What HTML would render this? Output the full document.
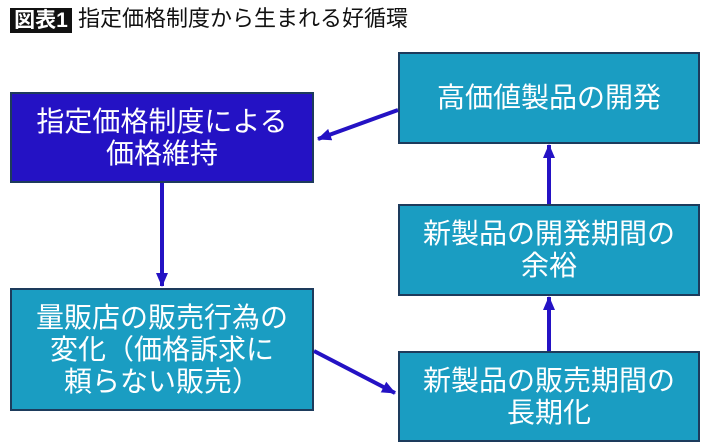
<!DOCTYPE html>
<html><head><meta charset="utf-8"><style>
body{margin:0;width:710px;height:447px;background:#fff;position:relative;overflow:hidden;font-family:"Liberation Sans","Noto Sans CJK JP",sans-serif}
.t{position:absolute;left:10px;top:8px;height:25px;width:62px;background:#111;color:#fff;font-size:21px;line-height:25px;text-align:center;font-weight:bold}
.tt{position:absolute;left:78px;top:6px;font-size:22px;line-height:26px;color:#111}
.b{position:absolute;box-sizing:border-box;border:2px solid #1d3b5c;background:#1a9dc2;color:#fff;font-size:28px;line-height:32px;display:flex;align-items:center;justify-content:center;text-align:center}
</style></head><body>
<div class="t">図表1</div>
<div class="tt">指定価格制度から生まれる好循環</div>
<div class="b" style="left:10px;top:92px;width:304px;height:91px;background:#2412c4">指定価格制度による<br>価格維持</div>
<div class="b" style="left:398px;top:52px;width:302px;height:92px">高価値製品の開発</div>
<div class="b" style="left:398px;top:204px;width:302px;height:92px">新製品の開発期間の<br>余裕</div>
<div class="b" style="left:398px;top:351px;width:302px;height:91px">新製品の販売期間の<br>長期化</div>
<div class="b" style="left:10px;top:288px;width:304px;height:123px">量販店の販売行為の<br>変化（価格訴求に<br>頼らない販売）</div>
<svg width="710" height="447" style="position:absolute;left:0;top:0">
<defs><marker id="a" markerWidth="14" markerHeight="12" refX="13" refY="6" orient="auto" markerUnits="userSpaceOnUse"><path d="M0,0 L14,6 L0,12z" fill="#2412c4"/></marker></defs>
<g stroke="#2412c4" stroke-width="4" fill="none">
<line x1="398" y1="110" x2="318" y2="139" marker-end="url(#a)"/>
<line x1="162" y1="183" x2="162" y2="286" marker-end="url(#a)"/>
<line x1="314" y1="351" x2="395" y2="393" marker-end="url(#a)"/>
<line x1="549" y1="351" x2="549" y2="297" marker-end="url(#a)"/>
<line x1="549" y1="204" x2="549" y2="145" marker-end="url(#a)"/>
</g></svg>
</body></html>
